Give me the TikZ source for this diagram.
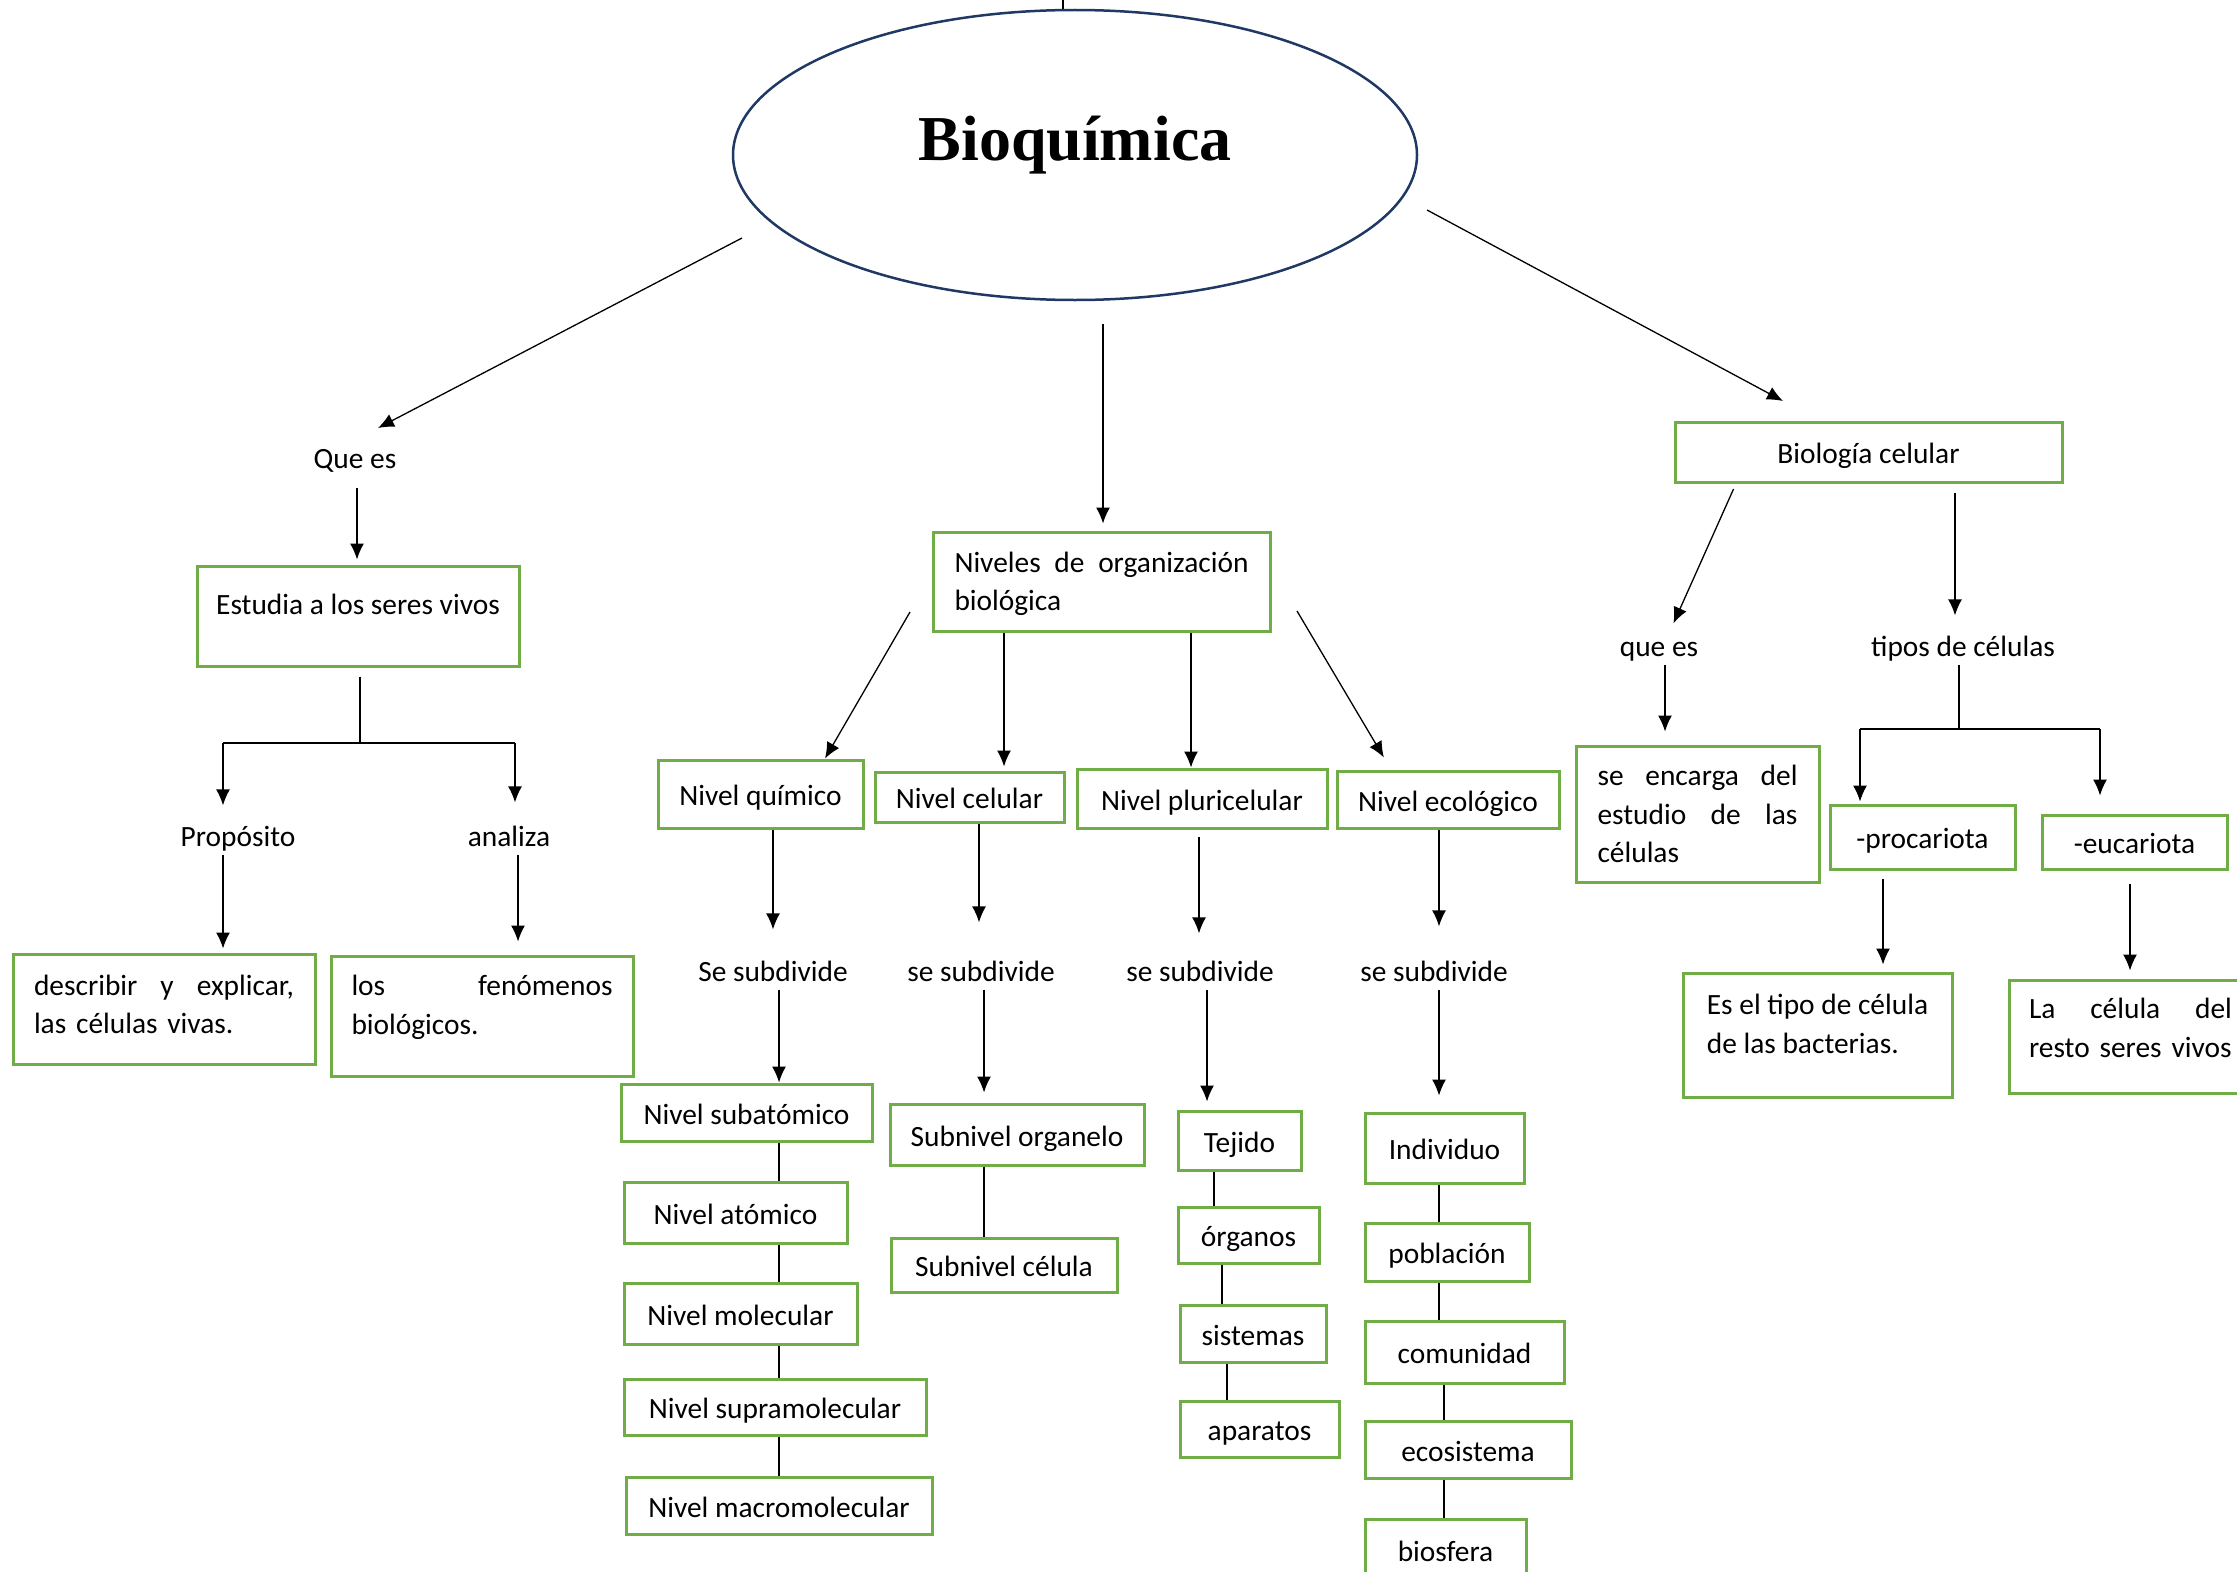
\documentclass[tikz,border=0pt]{standalone}
\usepackage{fontspec}
\setmainfont{Carlito}
\newfontfamily\titulofont{Liberation Serif}
\usetikzlibrary{shapes.geometric,arrows.meta}
\definecolor{verde}{RGB}{112,173,71}
\definecolor{marino}{RGB}{31,56,100}
\newcommand\letra{\fontsize{29.4}{38.5}\selectfont}
\newcommand\bajo[1]{\rule[-#1]{0pt}{#1}}
\tikzset{
  caja/.style={draw=verde,line width=3pt,inner sep=0pt,font=\letra},
  nivel/.style={caja,text height=26pt,text depth=3pt},
  etiq/.style={inner sep=0pt,font=\letra,text height=22pt,text depth=8pt},
}
\begin{document}
\begin{tikzpicture}[x=1pt,y=-1pt,>={Latex[length=16pt,width=14pt]},line width=1.3pt]
\useasboundingbox (0,0) rectangle (2237,1571);
\clip (0,0) rectangle (2237,1571);

\node[draw=marino,line width=2.5pt,ellipse,minimum width=684,minimum height=290,inner sep=0pt,
  text height=24pt,text depth=14pt,font=\titulofont\bfseries\fontsize{64}{70}\selectfont] (bio) at (1075,155) {Bioquímica};
\draw (bio.north -| 1063,0) -- (1063,0);
\coordinate (bioL) at (742,238);
\coordinate (bioB) at (1103,324);
\coordinate (bioR) at (1427,210);
\coordinate (puntaL) at (378,428);
\coordinate (puntaR) at (1783,401);
\draw[->] (bioL) -- (puntaL);
\draw[->] (bioR) -- (puntaR);

% izquierda
\node[etiq] (quees) at (355,461) {Que es};
\node[caja,minimum width=322,minimum height=100] (estudia) at (358,616) {Estudia a los seres vivos\bajo{24pt}};
\draw[->,shorten <=11pt,shorten >=5pt] (quees.south -| 357,0) -- (estudia.north -| 357,0);
\coordinate (ramaL) at (360,743);
\coordinate (ramaLa) at (223,743);
\coordinate (ramaLb) at (515,743);
\draw[shorten <=9pt] (estudia.south -| ramaL) -- (ramaL);
\draw (ramaLa) -- (ramaLb);
\node[etiq] (proposito) at (238,839) {Propósito};
\node[etiq] (analiza) at (509,839) {analiza};
\draw[->,shorten >=18pt] (ramaLa) -- (proposito.north -| ramaLa);
\draw[->,shorten >=21pt] (ramaLb) -- (analiza.north -| ramaLb);
\node[caja,minimum width=302,minimum height=110,text width=260,align=left] (describir) at (164,1009)
  {describir\hfill y\hfill explicar,\\las células vivas.\bajo{9pt}};
\node[caja,minimum width=302,minimum height=120,text width=261,align=left] (fenomenos) at (482,1016)
  {los\hfill fenómenos\\biológicos.\bajo{22pt}};
\draw[->,shorten >=4pt] (proposito.south -| ramaLa) -- (describir.north -| ramaLa);
\draw[->,shorten >=13pt] (analiza.south -| 518,0) -- (fenomenos.north -| 518,0);

% centro
\node[caja,minimum width=337,minimum height=99,text width=294,align=left] (niveles) at (1101.5,581.5)
  {\rule{0pt}{25pt}Niveles\hfill de\hfill organización\\biológica};
\draw[->,shorten >=7pt] (bioB) -- (niveles.north -| bioB);
\node[nivel,minimum width=205,minimum height=68] (quimico) at (760.5,794) {Nivel químico};
\node[nivel,minimum width=189,minimum height=50] (celular) at (969.5,797) {Nivel celular};
\node[nivel,minimum width=250,minimum height=59] (pluri) at (1202,798.5) {Nivel pluricelular};
\node[nivel,minimum width=222,minimum height=57] (ecologico) at (1448,799.5) {Nivel ecológico};
\coordinate (nivL) at (910,612);
\coordinate (nivR) at (1297,611);
\draw[->] (nivL) -- (quimico.north -| 825,0);
\draw[->,shorten >=4pt] (niveles.south -| 1004,0) -- (celular.north -| 1004,0);
\draw[->] (niveles.south -| 1191,0) -- (pluri.north -| 1191,0);
\draw[->,shorten >=14pt] (nivR) -- (ecologico.north -| 1391,0);

\node[etiq] (sub1) at (773,974) {Se subdivide};
\node[etiq] (sub2) at (981,974) {se subdivide};
\node[etiq] (sub3) at (1200,974) {se subdivide};
\node[etiq] (sub4) at (1434,974) {se subdivide};
\draw[->,shorten >=29pt] (quimico.south -| 773,0) -- (sub1.north -| 773,0);
\draw[->,shorten >=36pt] (celular.south -| 979,0) -- (sub2.north -| 979,0);
\draw[->,shorten <=7pt,shorten >=25pt] (pluri.south -| 1199,0) -- (sub3.north -| 1199,0);
\draw[->,shorten >=32pt] (ecologico.south -| 1439,0) -- (sub4.north -| 1439,0);

\node[nivel,minimum width=251,minimum height=57] (subatomico) at (746.5,1112.5) {Nivel subatómico};
\node[nivel,minimum width=223,minimum height=61] (atomico) at (735.5,1212.5) {Nivel atómico};
\node[nivel,minimum width=233,minimum height=61] (molecular) at (740.5,1313.5) {Nivel molecular};
\node[nivel,minimum width=302,minimum height=56] (supra) at (775,1407) {Nivel supramolecular};
\node[nivel,minimum width=306,minimum height=57] (macro) at (779,1505.5) {Nivel macromolecular};
\draw[->] (sub1.south -| 779,0) -- (subatomico.north -| 779,0);
\draw (subatomico.south -| 779,0) -- (atomico.north -| 779,0);
\draw (atomico.south -| 779,0) -- (molecular.north -| 779,0);
\draw (molecular.south -| 779,0) -- (supra.north -| 779,0);
\draw (supra.south -| 779,0) -- (macro.north -| 779,0);

\node[nivel,minimum width=254,minimum height=61] (organelo) at (1017,1134.5) {Subnivel organelo};
\node[nivel,minimum width=226,minimum height=54] (celula) at (1004,1265) {Subnivel célula};
\draw[->,shorten >=10pt] (sub2.south -| 984,0) -- (organelo.north -| 984,0);
\draw (organelo.south -| 984,0) -- (celula.north -| 984,0);

\node[nivel,minimum width=123,minimum height=59] (tejido) at (1239.5,1140.5) {Tejido};
\node[nivel,minimum width=141,minimum height=56] (organos) at (1248.5,1235) {órganos};
\node[nivel,minimum width=146,minimum height=57] (sistemas) at (1253,1333.5) {sistemas};
\node[nivel,minimum width=159,minimum height=56] (aparatos) at (1259.5,1429) {aparatos};
\draw[->,shorten >=8pt] (sub3.south -| 1207,0) -- (tejido.north -| 1207,0);
\draw (tejido.south -| 1214,0) -- (organos.north -| 1214,0);
\draw (organos.south -| 1222,0) -- (sistemas.north -| 1222,0);
\draw (sistemas.south -| 1227,0) -- (aparatos.north -| 1227,0);

\node[nivel,minimum width=159,minimum height=70] (individuo) at (1444.5,1148) {Individuo};
\node[nivel,minimum width=164,minimum height=58] (poblacion) at (1447,1252) {población};
\node[nivel,minimum width=199,minimum height=62] (comunidad) at (1464.5,1352) {comunidad};
\node[nivel,minimum width=206,minimum height=57] (ecosistema) at (1468,1449.5) {ecosistema};
\node[nivel,minimum width=161,minimum height=62] (biosfera) at (1445.5,1550) {biosfera};
\draw[->,shorten >=16pt] (sub4.south -| 1439,0) -- (individuo.north -| 1439,0);
\draw (individuo.south -| 1439,0) -- (poblacion.north -| 1439,0);
\draw (poblacion.south -| 1439,0) -- (comunidad.north -| 1439,0);
\draw (comunidad.south -| 1444,0) -- (ecosistema.north -| 1444,0);
\draw (ecosistema.south -| 1444,0) -- (biosfera.north -| 1444,0);

% derecha
\node[nivel,minimum width=387,minimum height=60] (biocel) at (1868.5,452) {Biología celular};
\node[etiq] (quees2) at (1659,649) {que es};
\node[etiq] (tipos) at (1963,649) {tipos de células};
\draw[->,shorten <=6pt,shorten >=11pt] (biocel.south -| 1736,0) -- (quees2.north -| 1669,0);
\draw[->,shorten <=9pt,shorten >=18pt] (biocel.south -| 1955,0) -- (tipos.north -| 1955,0);
\node[caja,minimum width=243,minimum height=136,text width=200,align=left] (encarga) at (1697.5,814)
  {se\hfill encarga\hfill del\\estudio\hfill de\hfill las\\células};
\draw[->,shorten >=13pt] (quees2.south -| 1665,0) -- (encarga.north -| 1665,0);
\coordinate (ramaR) at (1959,729);
\coordinate (ramaRa) at (1860,729);
\coordinate (ramaRb) at (2100,729);
\draw (tipos.south -| ramaR) -- (ramaR);
\draw (ramaRa) -- (ramaRb);
\node[nivel,minimum width=185,minimum height=64] (procariota) at (1922.5,837) {-procariota\hspace{28pt}};
\node[nivel,minimum width=185,minimum height=54] (eucariota) at (2134.5,842) {-eucariota};
\draw[->,shorten >=2pt] (ramaRa) -- (procariota.north -| ramaRa);
\draw[->,shorten >=18pt] (ramaRb) -- (eucariota.north -| ramaRb);
\node[caja,minimum width=269,minimum height=124,align=left] (bacterias) at (1817.5,1035)
  {Es el tipo de célula\\de las bacterias.\bajo{22pt}};
\node[caja,minimum width=243,minimum height=113,text width=203,align=left] (resto) at (2130.5,1036.5)
  {La\hfill célula\hfill del\\\mbox{resto seres vivos}\bajo{17pt}};
\draw[->,shorten <=8pt,shorten >=7pt] (procariota.south -| 1883,0) -- (bacterias.north -| 1883,0);
\draw[->,shorten <=13pt,shorten >=8pt] (eucariota.south -| 2130,0) -- (resto.north -| 2130,0);

\end{tikzpicture}
\end{document}
